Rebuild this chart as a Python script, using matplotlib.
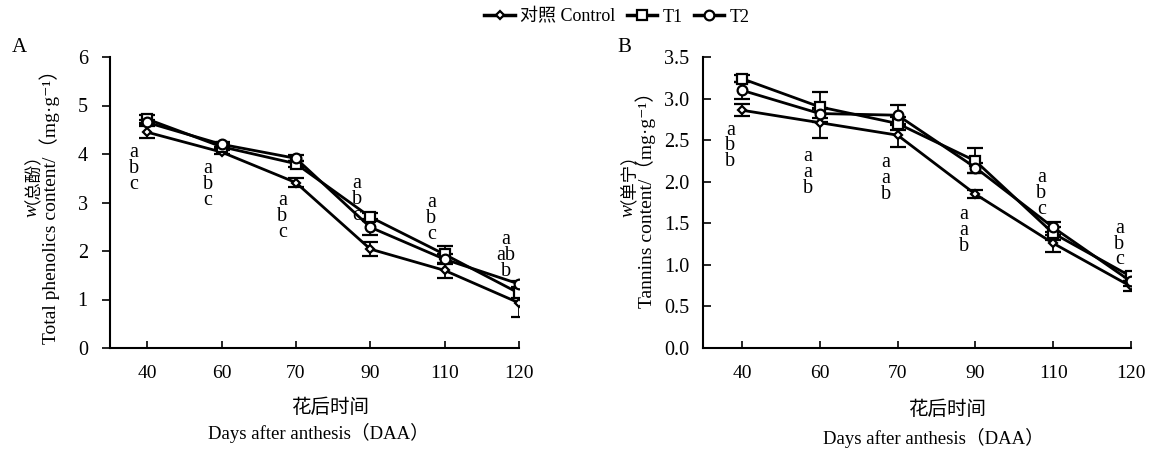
import matplotlib
matplotlib.use("Agg")
import matplotlib.pyplot as plt
from matplotlib.lines import Line2D

plt.rcParams['font.family'] = ['Liberation Serif', 'DejaVu Serif', 'Noto Sans CJK SC']

# Datos
dias = ["40", "60", "70", "90", "110", "120"]

fenoles_control = [4.45, 4.04, 3.41, 2.04, 1.60, 0.93]
fenoles_t1 = [4.72, 4.15, 3.80, 2.70, 1.93, 1.13]
fenoles_t2 = [4.65, 4.20, 3.91, 2.49, 1.83, 1.32]
err_fen_control = [0.12, 0.05, 0.10, 0.14, 0.15, 0.30]
err_fen_t1 = [0.08, 0.05, 0.06, 0.08, 0.17, 0.10]
err_fen_t2 = [0.06, 0.05, 0.06, 0.16, 0.10, 0.06]
letras_fen = [["a", "b", "c"], ["a", "b", "c"], ["a", "b", "c"],
              ["a", "b", "c"], ["a", "b", "c"], ["a", "ab", "b"]]
letras_fen_y = [4.04, 3.71, 3.05, 3.40, 3.00, 2.23]

taninos_control = [2.86, 2.71, 2.56, 1.85, 1.26, 0.74]
taninos_t1 = [3.24, 2.90, 2.70, 2.25, 1.38, 0.86]
taninos_t2 = [3.10, 2.82, 2.80, 2.17, 1.45, 0.80]
err_tan_control = [0.07, 0.18, 0.14, 0.05, 0.10, 0.06]
err_tan_t1 = [0.04, 0.18, 0.08, 0.15, 0.08, 0.05]
err_tan_t2 = [0.10, 0.05, 0.12, 0.06, 0.06, 0.05]
letras_tan = [["a", "b", "b"], ["a", "a", "b"], ["a", "a", "b"],
              ["a", "a", "b"], ["a", "b", "c"], ["a", "b", "c"]]
letras_tan_y = [2.62, 2.30, 2.23, 1.60, 2.05, 1.44]

W, H = 1150, 451
fig = plt.figure(figsize=(W / 100, H / 100), dpi=100)


def caja(x0, y0, x1, y1):
    return [x0 / W, 1 - y1 / H, (x1 - x0) / W, (y1 - y0) / H]


ax1 = fig.add_axes(caja(110, 57, 519, 348))
ax2 = fig.add_axes(caja(703, 57, 1131, 348))

estilos = [dict(marker="D", ms=4.5), dict(marker="s", ms=6.5), dict(marker="o", ms=7)]


def dibujar(ax, series, errores, letras, letras_y, ymax, yticks, yfmt, dy, dx, tick_y_dir):
    x = list(range(len(dias)))
    for vals, errs, est in zip(series, errores, estilos):
        ax.errorbar(x, vals, yerr=errs, color="black", lw=2, mfc="white",
                    mec="black", mew=1.6, capsize=6, elinewidth=1.3,
                    capthick=1.3, zorder=3, **est)
    for i, (lets, y0) in enumerate(zip(letras, letras_y)):
        for j, l in enumerate(lets):
            ax.text(i + dx, y0 - j * dy, l, ha="center", va="center", fontsize=14.5)
    ax.set_xlim(-0.5, 5)
    ax.set_ylim(0, ymax)
    ax.set_xticks(x)
    ax.set_xticklabels(dias)
    ax.set_yticks(yticks)
    ax.set_yticklabels([yfmt.format(v) for v in yticks])
    ax.spines["top"].set_visible(False)
    ax.spines["right"].set_visible(False)
    for s in ("left", "bottom"):
        ax.spines[s].set_linewidth(1.5)
    ax.tick_params(axis="x", direction="in", length=5, width=1.2, labelsize=14, pad=12)
    ax.tick_params(axis="y", direction=tick_y_dir, length=6, width=1.2, labelsize=14.5, pad=10)


dibujar(ax1, [fenoles_control, fenoles_t1, fenoles_t2],
        [err_fen_control, err_fen_t1, err_fen_t2],
        letras_fen, letras_fen_y, 6, [0, 1, 2, 3, 4, 5, 6], "{:.0f}", 0.33, -0.18, "out")
dibujar(ax2, [taninos_control, taninos_t1, taninos_t2],
        [err_tan_control, err_tan_t1, err_tan_t2],
        letras_tan, letras_tan_y, 3.5, [0, 0.5, 1, 1.5, 2, 2.5, 3, 3.5], "{:.1f}", 0.19, -0.15, "in")


def etiqueta_w(x, y, resto):
    # "w" en cursiva abajo, el resto encima (texto girado)
    fig.text(x / W, 1 - y / H, "w", rotation=90, fontsize=14, style="italic",
             ha="center", va="top")
    fig.text((x - 8) / W, 1 - y / H, resto, rotation=90, fontsize=12.5,
             ha="center", va="bottom")


# Etiquetas
fig.text(12 / W, 1 - 48 / H, "A", fontsize=15, va="center")
fig.text(617 / W, 1 - 48 / H, "B", fontsize=15, va="center")
etiqueta_w(32, 204, "（总酚）")
fig.text(50 / W, 1 - 202 / H, "Total phenolics content/（mg·g⁻¹）", rotation=90,
         fontsize=14, ha="center", va="center")
etiqueta_w(628, 204, "（单宁）")
fig.text(646 / W, 1 - 195 / H, "Tannins content/（mg·g⁻¹）", rotation=90,
         fontsize=14, ha="center", va="center")
fig.text(330 / W, 1 - 408 / H, "花后时间", fontsize=14, ha="center", va="center")
fig.text(318 / W, 1 - 433 / H, "Days after anthesis（DAA）", fontsize=13.5, ha="center", va="center")
fig.text(947 / W, 1 - 410 / H, "花后时间", fontsize=14, ha="center", va="center")
fig.text(933 / W, 1 - 438 / H, "Days after anthesis（DAA）", fontsize=13.5, ha="center", va="center")

handles = [Line2D([], [], color="black", lw=2.5, mfc="white", mec="black", mew=1.6, **e)
           for e in estilos]
fig.legend(handles, ["对照 Control", "T1", "T2"], loc="center", bbox_to_anchor=(617 / W, 1 - 17 / H),
           ncol=3, frameon=False, fontsize=13, handlelength=1.7, handletextpad=0.3,
           columnspacing=0.6)

fig.savefig("out.png", dpi=100)
